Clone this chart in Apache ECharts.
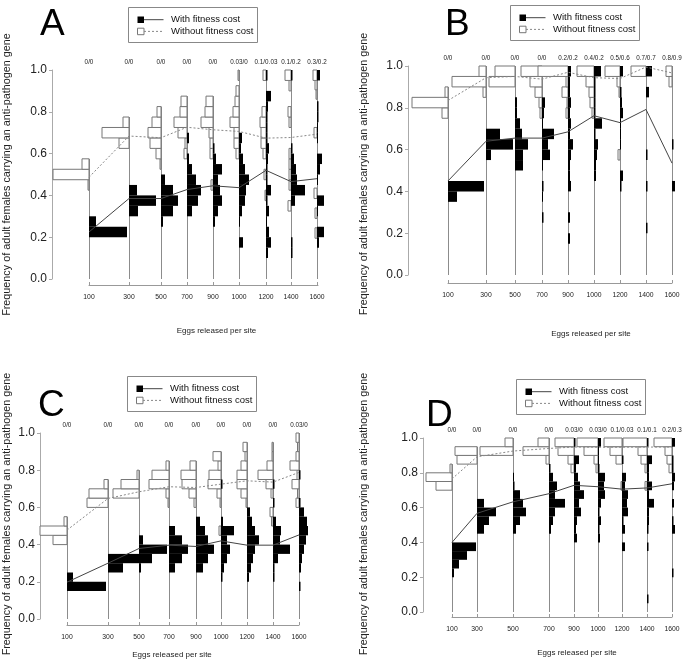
<!DOCTYPE html>
<html lang="en">
<head>
<meta charset="UTF-8">
<title>Anti-pathogen gene frequency</title>
<script src="https://cdn.jsdelivr.net/npm/echarts@6/dist/echarts.min.js"></script>
<style>
  html, body { margin: 0; padding: 0; background: #fff; }
  #box { width: 685px; height: 663px; }
</style>
</head>
<body>
<div id="box"></div>
<script>
// eggs released per site (x categories, same in every panel)
var eggs = ['100', '300', '500', '700', '900', '1000', '1200', '1400', '1600'];
var BIN = 0.05;

// histograms: per category, list of [bin lower edge, bar length]
// black = with fitness cost (drawn to the right), white = without (drawn to the left)
var blackA = [
    [[0.20, 38], [0.25, 7]],
    [[0.30, 9], [0.35, 27], [0.40, 8]],
    [[0.25, 2], [0.30, 12], [0.35, 17], [0.40, 12], [0.45, 4]],
    [[0.30, 5], [0.35, 11], [0.40, 14], [0.45, 9], [0.50, 5], [0.55, 2], [0.65, 2]],
    [[0.25, 2], [0.30, 5], [0.35, 9], [0.40, 7], [0.45, 5], [0.50, 9], [0.55, 3], [0.60, 1.5]],
    [[0.15, 4], [0.25, 1], [0.30, 3], [0.35, 6], [0.40, 7], [0.45, 10], [0.50, 6], [0.55, 4], [0.60, 2], [0.65, 3]],
    [[0.10, 2], [0.15, 5], [0.20, 3], [0.25, 1], [0.30, 3], [0.35, 1.5], [0.40, 5], [0.45, 1.5], [0.50, 1.5], [0.55, 2], [0.60, 3], [0.65, 1.5], [0.70, 1.5], [0.75, 1.5], [0.80, 2], [0.85, 5], [0.95, 1.5]],
    [[0.10, 1.5], [0.15, 1.5], [0.35, 4], [0.40, 14], [0.45, 6], [0.50, 5], [0.55, 3], [0.60, 1.5], [0.95, 1.5]],
    [[0.15, 2], [0.20, 7], [0.30, 1], [0.35, 7], [0.45, 1], [0.50, 3], [0.55, 5], [0.65, 1], [0.70, 1], [0.75, 1.5], [0.80, 1.5], [0.95, 3]]
];
var whiteA = [
    [[0.425, 1], [0.475, 36], [0.525, 7]],
    [[0.625, 10], [0.675, 27], [0.725, 6]],
    [[0.525, 1], [0.575, 5], [0.625, 11], [0.675, 13], [0.725, 9], [0.775, 4]],
    [[0.575, 3], [0.625, 2], [0.675, 9], [0.725, 13], [0.775, 7], [0.825, 6]],
    [[0.425, 2], [0.575, 3], [0.625, 3], [0.675, 4], [0.725, 12], [0.775, 8], [0.825, 7]],
    [[0.575, 3], [0.625, 5], [0.675, 5], [0.725, 9], [0.775, 6], [0.825, 4], [0.875, 3], [0.95, 1]],
    [[0.375, 1], [0.475, 2], [0.575, 3], [0.625, 5], [0.675, 5], [0.725, 6], [0.775, 4], [0.95, 3]],
    [[0.325, 3], [0.425, 2], [0.475, 2], [0.525, 2], [0.575, 2], [0.725, 2], [0.775, 3], [0.90, 2], [0.95, 6]],
    [[0.195, 2], [0.29, 2], [0.385, 3], [0.675, 3], [0.86, 1], [0.905, 2], [0.95, 4]]
];
var meanBlackA = [0.225, 0.385, 0.385, 0.428, 0.446, 0.437, 0.52, 0.466, 0.48];
var meanWhiteA = [0.487, 0.684, 0.676, 0.726, 0.714, 0.706, 0.674, 0.677, 0.693];
var topA = ['0/0', '0/0', '0/0', '0/0', '0/0', '0.03/0', '0.1/0.03', '0.1/0.2', '0.3/0.2'];

var blackB = [
    [[0.35, 9], [0.40, 36]],
    [[0.55, 5], [0.60, 27], [0.65, 14]],
    [[0.50, 8], [0.55, 8], [0.60, 13], [0.65, 7], [0.70, 5], [0.75, 2], [0.80, 2]],
    [[0.25, 1.5], [0.35, 1], [0.40, 1.5], [0.50, 1], [0.55, 8], [0.60, 6], [0.65, 12], [0.70, 1], [0.75, 2], [0.80, 3]],
    [[0.15, 2], [0.25, 2], [0.40, 3], [0.45, 2], [0.50, 2], [0.55, 3], [0.60, 5], [0.65, 2], [0.70, 3], [0.75, 2], [0.80, 3], [0.85, 2], [0.90, 2], [0.95, 3]],
    [[0.45, 2], [0.50, 2], [0.55, 3], [0.60, 4], [0.65, 1.5], [0.70, 8], [0.75, 1.5], [0.80, 1.5], [0.85, 1.5], [0.90, 1.5], [0.95, 7]],
    [[0.40, 1.5], [0.45, 3], [0.60, 1], [0.65, 1], [0.70, 1], [0.75, 3], [0.80, 2], [0.85, 1.5], [0.95, 3]],
    [[0.20, 1.5], [0.40, 1.5], [0.55, 1.5], [0.85, 3], [0.95, 6]],
    [[0.40, 3], [0.60, 1.5]]
];
var whiteB = [
    [[0.75, 6], [0.80, 36], [0.85, 3]],
    [[0.85, 3], [0.90, 34], [0.95, 7]],
    [[0.90, 26], [0.95, 20]],
    [[0.75, 2], [0.80, 3], [0.85, 7], [0.90, 12], [0.95, 21]],
    [[0.75, 2], [0.80, 1], [0.85, 6], [0.90, 2], [0.95, 30]],
    [[0.75, 2], [0.80, 4], [0.85, 5], [0.90, 8], [0.95, 17]],
    [[0.55, 2], [0.85, 1], [0.90, 3], [0.95, 15]],
    [[0.95, 15]],
    [[0.90, 3], [0.95, 6]]
];
var meanBlackB = [0.45, 0.64, 0.655, 0.655, 0.685, 0.762, 0.729, 0.792, 0.535];
var meanWhiteB = [0.835, 0.944, 0.95, 0.937, 0.97, 0.944, 0.94, 0.995, 0.967];
var topB = ['0/0', '0/0', '0/0', '0/0', '0.2/0.2', '0.4/0.2', '0.5/0.6', '0.7/0.7', '0.8/0.9'];

var blackC = [
    [[0.15, 39], [0.20, 6]],
    [[0.25, 15], [0.30, 31]],
    [[0.25, 2], [0.30, 13], [0.35, 28], [0.40, 4]],
    [[0.25, 6], [0.30, 13], [0.35, 19], [0.40, 13], [0.45, 6]],
    [[0.25, 7], [0.30, 12], [0.35, 18], [0.40, 12], [0.45, 9], [0.50, 4]],
    [[0.20, 1.5], [0.25, 3], [0.30, 6], [0.35, 9], [0.40, 6], [0.45, 13], [0.50, 2], [0.70, 1.5]],
    [[0.20, 2], [0.25, 4], [0.30, 6], [0.35, 8], [0.40, 12], [0.45, 8], [0.50, 5], [0.55, 3]],
    [[0.20, 1.5], [0.25, 1.5], [0.30, 5], [0.35, 17], [0.40, 7], [0.45, 8], [0.50, 3], [0.60, 1.5], [0.70, 1.5]],
    [[0.15, 1.5], [0.25, 2], [0.30, 3], [0.35, 5], [0.40, 7], [0.45, 9], [0.50, 8], [0.55, 5], [0.60, 1.5], [0.75, 1.5]]
];
var whiteC = [
    [[0.40, 14], [0.45, 27], [0.50, 3]],
    [[0.60, 21], [0.65, 19], [0.70, 4]],
    [[0.65, 26], [0.70, 18], [0.75, 2]],
    [[0.60, 1], [0.65, 3], [0.70, 20], [0.75, 17], [0.80, 3]],
    [[0.60, 2], [0.65, 7], [0.70, 14], [0.75, 15], [0.80, 6]],
    [[0.45, 2], [0.60, 1], [0.65, 4], [0.70, 13], [0.75, 12], [0.80, 3], [0.85, 8]],
    [[0.60, 1], [0.65, 6], [0.70, 10], [0.75, 10], [0.80, 6], [0.85, 2], [0.90, 4]],
    [[0.50, 1.5], [0.55, 3], [0.65, 2], [0.70, 7], [0.75, 15], [0.80, 6], [0.85, 1], [0.90, 1]],
    [[0.60, 3], [0.65, 1.5], [0.70, 7], [0.75, 2], [0.80, 9], [0.85, 3], [0.90, 1.5], [0.95, 3]]
];
var meanBlackC = [0.198, 0.30, 0.379, 0.397, 0.39, 0.42, 0.397, 0.397, 0.452];
var meanWhiteC = [0.478, 0.648, 0.684, 0.711, 0.707, 0.725, 0.743, 0.736, 0.788];
var topC = ['0/0', '0/0', '0/0', '0/0', '0/0', '0/0', '0/0', '0/0', '0.03/0'];

var blackD = [
    [[0.20, 2], [0.25, 7], [0.30, 15], [0.35, 24]],
    [[0.45, 7], [0.50, 12], [0.55, 19], [0.60, 7]],
    [[0.45, 3], [0.50, 7], [0.55, 13], [0.60, 10], [0.65, 7], [0.70, 1.5], [0.75, 1]],
    [[0.45, 2], [0.50, 4], [0.55, 6], [0.60, 16], [0.65, 6], [0.70, 8], [0.75, 4], [0.80, 1.5]],
    [[0.40, 3], [0.45, 2], [0.50, 3], [0.55, 7], [0.60, 5], [0.65, 10], [0.70, 6], [0.75, 4], [0.80, 2], [0.85, 5], [0.95, 1.5]],
    [[0.40, 2], [0.45, 1.5], [0.50, 3], [0.55, 1.5], [0.60, 3], [0.65, 7], [0.70, 6], [0.75, 7], [0.80, 1.5], [0.85, 1], [0.90, 1], [0.95, 3]],
    [[0.35, 3], [0.45, 3], [0.50, 1.5], [0.55, 6], [0.60, 5], [0.65, 6], [0.70, 3], [0.75, 4], [0.85, 1.5]],
    [[0.05, 1.5], [0.35, 1.5], [0.45, 1.5], [0.50, 2], [0.55, 2], [0.60, 7], [0.65, 2], [0.70, 5], [0.75, 2], [0.80, 2], [0.85, 5], [0.95, 1.5]],
    [[0.20, 1.5], [0.45, 3], [0.50, 1.5], [0.60, 2], [0.70, 2], [0.75, 3], [0.80, 1.5], [0.85, 1.5], [0.95, 3]]
];
var whiteD = [
    [[0.70, 16], [0.75, 26], [0.80, 2]],
    [[0.85, 20], [0.90, 22]],
    [[0.90, 33], [0.95, 8]],
    [[0.85, 3], [0.90, 26], [0.95, 11]],
    [[0.80, 3], [0.85, 6], [0.90, 16], [0.95, 19]],
    [[0.80, 2], [0.85, 4], [0.90, 14], [0.95, 21]],
    [[0.70, 1], [0.85, 6], [0.90, 12], [0.95, 18]],
    [[0.70, 2], [0.80, 2], [0.85, 6], [0.90, 9], [0.95, 24]],
    [[0.80, 3], [0.85, 5], [0.90, 7], [0.95, 18]]
];
var meanBlackD = [0.40, 0.567, 0.633, 0.68, 0.728, 0.72, 0.706, 0.713, 0.737];
var meanWhiteD = [0.765, 0.892, 0.925, 0.94, 0.948, 0.947, 0.947, 0.948, 0.948];
var topD = ['0/0', '0/0', '0/0', '0/0', '0.03/0', '0.03/0', '0.1/0.03', '0.1/0.1', '0.2/0.3'];

var FONT = '"Liberation Sans", Arial, sans-serif';
var YNAME = 'Frequency of adult females carrying an anti-pathogen gene';

// panel layout (pixels); slots = position of each category line from the 100 line
var panels = [
    {letter: 'A', black: blackA, white: whiteA, mB: meanBlackA, mW: meanWhiteA, top: topA,
     grid: {left: 89, top: 70, width: 229, height: 209}, slots: [0, 40, 72, 98, 124, 150, 177, 202, 228],
     yOff: 37, xOff: 6, yGap: 39, yPad: [0, 0, 0, 0], xGap: 42, xPad: [0, 0, 0, 26], lx: 40, ly: 6, gx: 128, gy: 7},
    {letter: 'B', black: blackB, white: whiteB, mB: meanBlackB, mW: meanWhiteB, top: topB,
     grid: {left: 448, top: 66, width: 224, height: 209}, slots: [0, 38, 67, 94, 120, 146, 172, 198, 224],
     yOff: 40, xOff: 8, yGap: 38, yPad: [0, 7, 0, 0], xGap: 47, xPad: [0, 0, 0, 62], lx: 445, ly: 6, gx: 510, gy: 5},
    {letter: 'C', black: blackC, white: whiteC, mB: meanBlackC, mW: meanWhiteC, top: topC,
     grid: {left: 67, top: 433, width: 232, height: 186}, slots: [0, 41, 72, 102, 129, 154, 180, 206, 232],
     yOff: 27, xOff: 6, yGap: 27, yPad: [0, 0, 0, 24], xGap: 26, xPad: [0, 22, 0, 0], lx: 38, ly: 387, gx: 127, gy: 376},
    {letter: 'D', black: blackD, white: whiteD, mB: meanBlackD, mW: meanWhiteD, top: topD,
     grid: {left: 452, top: 438, width: 220, height: 174}, slots: [0, 25, 61, 97, 122, 146, 170, 195, 220],
     yOff: 29, xOff: 5, yGap: 53, yPad: [0, 0, 0, 22], xGap: 32, xPad: [0, 0, 0, 30], lx: 426, ly: 397, gx: 516, gy: 379}
];

var grids = [], xAxes = [], yAxes = [], series = [], graphics = [];

panels.forEach(function (p, i) {
    var g = p.grid;
    grids.push({left: g.left, top: g.top, width: g.width, height: g.height, containLabel: false, outerBoundsMode: 'none'});

    xAxes.push({
        gridIndex: i, type: 'value', min: 0, max: g.width, offset: p.xOff,
        axisLine: {onZero: false, lineStyle: {color: '#999', width: 1}},
        axisTick: {customValues: p.slots, inside: true, length: 3, lineStyle: {color: '#999'}},
        axisLabel: {
            customValues: p.slots, margin: 9, fontSize: 6.8, color: '#222', fontFamily: FONT,
            formatter: function (v) { return eggs[p.slots.indexOf(v)]; }
        },
        splitLine: {show: false},
        name: 'Eggs released per site', nameLocation: 'middle', nameGap: p.xGap,
        nameTextStyle: {fontSize: 8, color: '#222', fontFamily: FONT, padding: p.xPad}
    });
    yAxes.push({
        gridIndex: i, type: 'value', min: 0, max: 1, interval: 0.2, offset: p.yOff,
        axisLine: {show: true, onZero: false, lineStyle: {color: '#aaa', width: 1}},
        axisTick: {show: true, length: 3, lineStyle: {color: '#aaa'}},
        axisLabel: {margin: 5, fontSize: 12, color: '#222', fontFamily: FONT,
            formatter: function (v) { return v.toFixed(1); }},
        splitLine: {show: false},
        name: YNAME, nameLocation: 'middle', nameGap: p.yGap,
        nameTextStyle: {fontSize: 10.8, color: '#222', fontFamily: FONT, padding: p.yPad}
    });

    var bars = [], stems = [];
    p.slots.forEach(function (s, k) {
        var t = 0;
        p.white[k].forEach(function (b) { bars.push([s, b[0], b[1], -1]); t = Math.max(t, b[0] + BIN); });
        p.black[k].forEach(function (b) { bars.push([s, b[0], b[1], 1]); t = Math.max(t, b[0] + BIN); });
        stems.push([s, Math.min(t, 1), k]);
    });

    // category lines and the labels above them
    series.push({
        type: 'custom', xAxisIndex: i, yAxisIndex: i, z: 1, silent: true, data: stems,
        renderItem: function (params, api) {
            var s = api.value(0), t = api.value(1), k = api.value(2);
            var a = api.coord([s, 0]), b = api.coord([s, t]), c = api.coord([s, 1]);
            var x = Math.round(a[0]) + 0.5;
            return {type: 'group', children: [
                {type: 'line', shape: {x1: x, y1: a[1], x2: x, y2: b[1]}, style: {stroke: '#8c8c8c', lineWidth: 1}},
                {type: 'text', style: {text: p.top[k], x: c[0], y: c[1] - 8, align: 'center', verticalAlign: 'middle',
                    fontSize: 6.3, fontFamily: FONT, fill: '#222'}}
            ]};
        }
    });
    // histogram bars
    series.push({
        type: 'custom', xAxisIndex: i, yAxisIndex: i, z: 2, silent: true, data: bars,
        renderItem: function (params, api) {
            var s = api.value(0), lo = api.value(1), len = api.value(2), side = api.value(3);
            var a = api.coord([s, lo]), b = api.coord([s + side * len, lo + BIN]);
            return {
                type: 'rect',
                shape: {x: Math.min(a[0], b[0]), y: b[1], width: Math.abs(b[0] - a[0]), height: a[1] - b[1]},
                style: side > 0 ? {fill: '#000'} : {fill: '#fff', stroke: '#777', lineWidth: 1}
            };
        }
    });
    series.push({
        type: 'line', xAxisIndex: i, yAxisIndex: i, z: 3, silent: true, symbol: 'none',
        data: p.slots.map(function (s, k) { return [s, p.mB[k]]; }),
        lineStyle: {color: '#444', width: 1}
    });
    series.push({
        type: 'line', xAxisIndex: i, yAxisIndex: i, z: 3, silent: true, symbol: 'none',
        data: p.slots.map(function (s, k) { return [s, p.mW[k]]; }),
        lineStyle: {color: '#888', width: 1, type: [2, 2]}
    });

    // panel letter
    graphics.push({type: 'text', x: p.lx, y: p.ly,
        style: {text: p.letter, fontSize: 37, fontFamily: FONT, fill: '#000', verticalAlign: 'top'}});
    // legend box
    graphics.push({type: 'group', x: p.gx, y: p.gy, children: [
        {type: 'rect', shape: {x: 0.5, y: 0.5, width: 129, height: 35}, style: {fill: '#fff', stroke: '#888', lineWidth: 1}},
        {type: 'rect', shape: {x: 9.5, y: 9.5, width: 6.5, height: 6.5}, style: {fill: '#000'}},
        {type: 'line', shape: {x1: 16, y1: 12.7, x2: 35.5, y2: 12.7}, style: {stroke: '#444', lineWidth: 1}},
        {type: 'text', x: 43, y: 12.7, style: {text: 'With fitness cost', fontSize: 9.5, fontFamily: FONT, fill: '#111', verticalAlign: 'middle'}},
        {type: 'rect', shape: {x: 9.5, y: 21.2, width: 6.5, height: 6.5}, style: {fill: '#fff', stroke: '#777', lineWidth: 1}},
        {type: 'line', shape: {x1: 16, y1: 24.4, x2: 35.5, y2: 24.4}, style: {stroke: '#888', lineWidth: 1, lineDash: [2, 2]}},
        {type: 'text', x: 43, y: 24.4, style: {text: 'Without fitness cost', fontSize: 9.5, fontFamily: FONT, fill: '#111', verticalAlign: 'middle'}}
    ]});
});

var myChart = echarts.init(document.getElementById('box'));
myChart.setOption({
    animation: false,
    backgroundColor: '#fff',
    grid: grids,
    xAxis: xAxes,
    yAxis: yAxes,
    series: series,
    graphic: graphics
});
</script>
</body>
</html>
